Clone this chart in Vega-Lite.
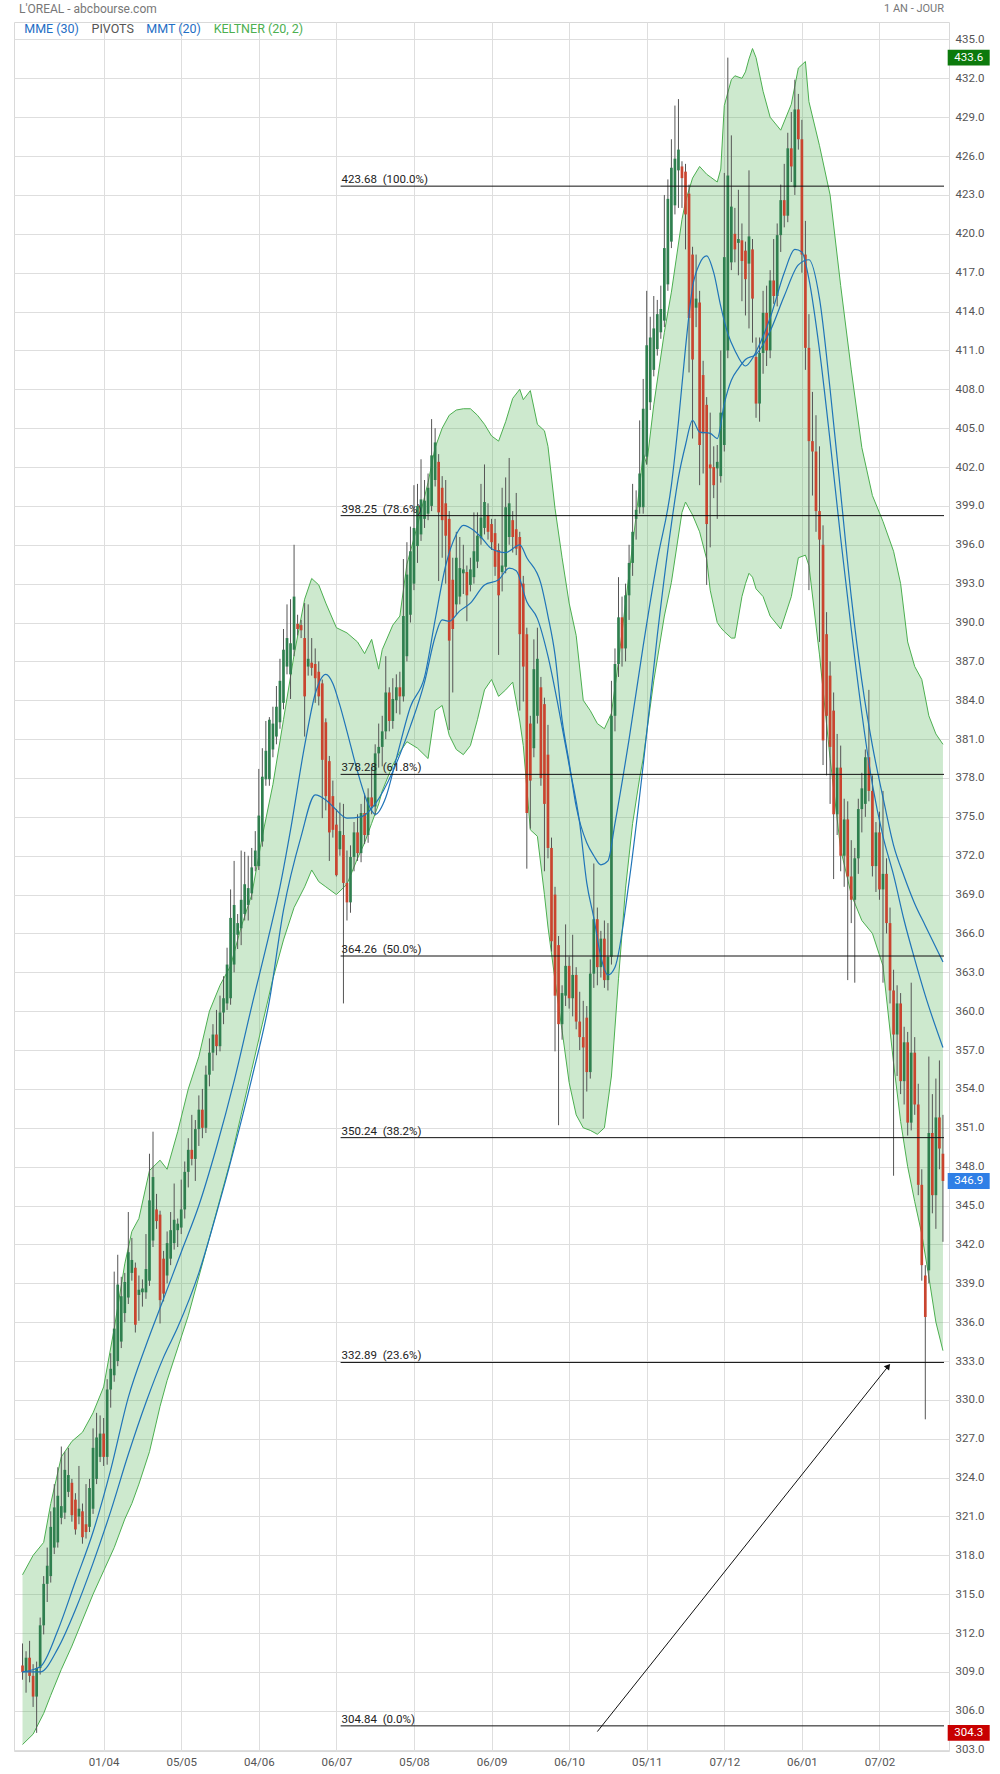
{
"$schema":"https://vega.github.io/schema/vega-lite/v6.json",
"width":935,"height":1729,
"autosize":{"type":"none"},
"padding":{"left":14,"top":22,"right":51,"bottom":23},
"background":"white",
"config":{"view":{"stroke":"#d9d9d9"},"font":"Roboto","axis":{"labelFont":"Roboto","labelColor":"#555","labelFontSize":11.5,"gridColor":"#dedede","domain":false,"ticks":false,"labelOverlap":false}},
"resolve":{"axis":{"x":"independent","y":"independent"}},
"datasets":{
"k":[
{"i":0,"o":309.5,"h":311.2,"l":308.4,"c":309.0},{"i":1,"o":309.0,"h":310.6,"l":307.4,"c":310.1},{"i":2,"o":310.1,"h":311.4,"l":308.2,"c":308.7},{"i":3,"o":308.7,"h":309.6,"l":306.3,"c":307.1},{"i":4,"o":307.1,"h":309.8,"l":304.3,"c":309.3},{"i":5,"o":309.3,"h":313.2,"l":308.8,"c":312.6},{"i":6,"o":312.6,"h":316.4,"l":311.9,"c":315.8},{"i":7,"o":315.8,"h":318.6,"l":314.4,"c":317.2},{"i":8,"o":316.4,"h":321.4,"l":315.9,"c":320.2},{"i":9,"o":318.6,"h":323.5,"l":318.1,"c":321.7},
{"i":10,"o":319.0,"h":324.8,"l":318.6,"c":322.6},{"i":11,"o":320.9,"h":326.4,"l":320.4,"c":321.8},{"i":12,"o":321.3,"h":326.0,"l":320.8,"c":324.6},{"i":13,"o":322.9,"h":326.3,"l":322.5,"c":324.2},{"i":14,"o":323.6,"h":323.9,"l":320.6,"c":321.1},{"i":15,"o":322.3,"h":322.8,"l":319.6,"c":320.0},{"i":16,"o":321.0,"h":324.9,"l":320.4,"c":321.6},{"i":17,"o":321.4,"h":322.0,"l":318.9,"c":319.4},{"i":18,"o":320.4,"h":323.5,"l":319.3,"c":319.8},{"i":19,"o":320.2,"h":323.9,"l":319.8,"c":323.2},
{"i":20,"o":321.6,"h":327.8,"l":321.2,"c":326.3},{"i":21,"o":323.9,"h":329.0,"l":323.5,"c":327.1},{"i":22,"o":325.6,"h":328.8,"l":325.2,"c":327.4},{"i":23,"o":327.4,"h":328.6,"l":324.9,"c":325.6},{"i":24,"o":325.6,"h":331.6,"l":325.0,"c":330.8},{"i":25,"o":330.8,"h":333.6,"l":329.4,"c":332.4},{"i":26,"o":331.9,"h":339.9,"l":331.4,"c":335.5},{"i":27,"o":333.0,"h":341.2,"l":332.6,"c":338.9},{"i":28,"o":334.5,"h":339.5,"l":334.0,"c":338.0},{"i":29,"o":336.7,"h":339.8,"l":336.0,"c":339.1},
{"i":30,"o":337.9,"h":344.5,"l":337.4,"c":341.4},{"i":31,"o":339.8,"h":342.5,"l":339.2,"c":340.8},{"i":32,"o":340.2,"h":340.6,"l":335.2,"c":335.8},{"i":33,"o":338.1,"h":339.6,"l":336.1,"c":338.5},{"i":34,"o":338.3,"h":339.3,"l":337.2,"c":338.6},{"i":35,"o":338.3,"h":342.8,"l":337.8,"c":340.1},{"i":36,"o":339.2,"h":349.0,"l":338.8,"c":345.4},{"i":37,"o":342.3,"h":350.7,"l":341.8,"c":347.2},{"i":38,"o":344.7,"h":345.9,"l":343.2,"c":343.8},{"i":39,"o":344.3,"h":344.6,"l":335.9,"c":337.7},
{"i":40,"o":340.9,"h":341.5,"l":337.6,"c":338.2},{"i":41,"o":339.6,"h":343.0,"l":339.0,"c":342.1},{"i":42,"o":340.9,"h":344.5,"l":340.4,"c":343.1},{"i":43,"o":342.1,"h":346.7,"l":341.6,"c":343.9},{"i":44,"o":343.1,"h":344.0,"l":341.8,"c":343.6},{"i":45,"o":343.3,"h":347.0,"l":342.8,"c":344.7},{"i":46,"o":344.7,"h":348.4,"l":344.0,"c":347.6},{"i":47,"o":347.6,"h":350.2,"l":346.4,"c":349.3},{"i":48,"o":349.3,"h":352.0,"l":348.1,"c":348.6},{"i":49,"o":348.6,"h":351.6,"l":346.9,"c":350.9},
{"i":50,"o":350.9,"h":353.5,"l":349.6,"c":352.4},{"i":51,"o":352.4,"h":354.0,"l":350.2,"c":351.0},{"i":52,"o":351.0,"h":355.8,"l":350.6,"c":355.1},{"i":53,"o":355.1,"h":357.9,"l":354.2,"c":356.8},{"i":54,"o":356.8,"h":359.0,"l":355.4,"c":358.2},{"i":55,"o":358.2,"h":360.1,"l":356.6,"c":357.3},{"i":56,"o":357.3,"h":361.2,"l":356.9,"c":359.9},{"i":57,"o":359.9,"h":362.7,"l":359.0,"c":361.0},{"i":58,"o":360.6,"h":364.9,"l":360.1,"c":363.6},{"i":59,"o":361.0,"h":369.4,"l":360.5,"c":367.2},
{"i":60,"o":363.6,"h":371.6,"l":363.0,"c":368.2},{"i":61,"o":365.9,"h":367.5,"l":364.8,"c":366.8},{"i":62,"o":366.4,"h":372.4,"l":365.1,"c":368.6},{"i":63,"o":367.5,"h":372.3,"l":367.0,"c":369.8},{"i":64,"o":368.2,"h":372.0,"l":367.0,"c":369.5},{"i":65,"o":369.1,"h":372.6,"l":368.6,"c":371.1},{"i":66,"o":371.2,"h":373.9,"l":370.8,"c":372.4},{"i":67,"o":371.2,"h":378.7,"l":370.9,"c":375.1},{"i":68,"o":373.1,"h":380.3,"l":372.7,"c":378.1},{"i":69,"o":377.9,"h":382.4,"l":377.4,"c":380.1},
{"i":70,"o":377.9,"h":382.7,"l":377.4,"c":382.5},{"i":71,"o":380.2,"h":383.5,"l":379.6,"c":382.2},{"i":72,"o":381.2,"h":385.1,"l":380.6,"c":383.5},{"i":73,"o":382.3,"h":387.2,"l":381.8,"c":385.5},{"i":74,"o":383.8,"h":389.5,"l":383.3,"c":387.9},{"i":75,"o":386.6,"h":391.4,"l":386.0,"c":388.8},{"i":76,"o":386.0,"h":391.8,"l":384.1,"c":388.4},{"i":77,"o":387.9,"h":396.0,"l":387.4,"c":392.0},{"i":78,"o":389.9,"h":390.6,"l":389.0,"c":389.5},{"i":79,"o":389.8,"h":390.2,"l":388.8,"c":389.4},
{"i":80,"o":388.8,"h":391.5,"l":381.2,"c":384.3},{"i":81,"o":386.6,"h":391.4,"l":385.9,"c":387.2},{"i":82,"o":386.9,"h":388.8,"l":385.9,"c":386.5},{"i":83,"o":386.8,"h":388.0,"l":383.8,"c":385.7},{"i":84,"o":386.2,"h":387.0,"l":383.6,"c":384.3},{"i":85,"o":385.3,"h":385.6,"l":374.9,"c":379.4},{"i":86,"o":382.3,"h":382.6,"l":375.5,"c":376.6},{"i":87,"o":379.3,"h":379.7,"l":371.6,"c":373.8},{"i":88,"o":376.6,"h":377.8,"l":373.4,"c":374.0},{"i":89,"o":374.4,"h":375.6,"l":370.4,"c":370.5},
{"i":90,"o":372.5,"h":376.1,"l":372.0,"c":373.9},{"i":91,"o":373.6,"h":376.0,"l":360.6,"c":369.9},{"i":92,"o":369.9,"h":372.4,"l":367.0,"c":368.4},{"i":93,"o":368.4,"h":372.8,"l":367.6,"c":371.9},{"i":94,"o":371.9,"h":374.6,"l":370.8,"c":373.8},{"i":95,"o":373.8,"h":375.2,"l":371.6,"c":372.2},{"i":96,"o":372.2,"h":376.0,"l":371.5,"c":375.3},{"i":97,"o":375.3,"h":376.8,"l":372.9,"c":373.6},{"i":98,"o":373.6,"h":377.2,"l":373.0,"c":376.5},{"i":99,"o":376.5,"h":378.9,"l":375.2,"c":375.8},
{"i":100,"o":375.8,"h":380.6,"l":375.1,"c":379.9},{"i":101,"o":379.9,"h":382.2,"l":378.8,"c":380.4},{"i":102,"o":380.4,"h":382.8,"l":378.9,"c":381.6},{"i":103,"o":381.6,"h":387.4,"l":381.0,"c":384.6},{"i":104,"o":384.6,"h":385.0,"l":381.6,"c":382.4},{"i":105,"o":382.4,"h":385.7,"l":381.8,"c":384.1},{"i":106,"o":384.0,"h":386.0,"l":383.0,"c":385.0},{"i":107,"o":385.0,"h":386.2,"l":382.9,"c":384.3},{"i":108,"o":384.3,"h":394.9,"l":383.9,"c":390.5},{"i":109,"o":387.4,"h":396.2,"l":387.0,"c":393.7},
{"i":110,"o":390.6,"h":397.4,"l":390.0,"c":395.5},{"i":111,"o":393.0,"h":400.6,"l":392.5,"c":397.3},{"i":112,"o":395.9,"h":400.7,"l":394.6,"c":399.0},{"i":113,"o":396.8,"h":402.6,"l":396.3,"c":399.5},{"i":114,"o":398.0,"h":401.0,"l":397.3,"c":399.4},{"i":115,"o":398.4,"h":401.5,"l":397.9,"c":400.4},{"i":116,"o":399.0,"h":405.7,"l":398.6,"c":402.9},{"i":117,"o":401.0,"h":405.0,"l":400.5,"c":403.9},{"i":118,"o":402.4,"h":403.0,"l":393.2,"c":398.5},{"i":119,"o":400.4,"h":401.3,"l":395.0,"c":397.9},
{"i":120,"o":399.2,"h":401.0,"l":393.0,"c":396.7},{"i":121,"o":398.0,"h":398.6,"l":381.7,"c":388.6},{"i":122,"o":393.3,"h":395.0,"l":384.6,"c":389.5},{"i":123,"o":391.4,"h":397.0,"l":390.6,"c":395.0},{"i":124,"o":392.0,"h":396.6,"l":391.4,"c":394.2},{"i":125,"o":393.8,"h":396.0,"l":392.2,"c":394.1},{"i":126,"o":393.9,"h":394.4,"l":390.1,"c":392.1},{"i":127,"o":392.9,"h":395.0,"l":392.4,"c":394.1},{"i":128,"o":393.5,"h":398.5,"l":393.0,"c":395.5},{"i":129,"o":394.7,"h":398.5,"l":394.2,"c":396.7},
{"i":130,"o":396.5,"h":400.7,"l":396.0,"c":398.1},{"i":131,"o":397.3,"h":402.2,"l":396.8,"c":399.3},{"i":132,"o":398.3,"h":399.2,"l":396.4,"c":397.0},{"i":133,"o":397.6,"h":398.0,"l":395.6,"c":396.2},{"i":134,"o":396.9,"h":398.0,"l":393.6,"c":394.3},{"i":135,"o":395.6,"h":396.1,"l":387.5,"c":392.1},{"i":136,"o":393.9,"h":400.4,"l":392.4,"c":394.4},{"i":137,"o":394.3,"h":401.2,"l":393.8,"c":398.9},{"i":138,"o":396.6,"h":402.7,"l":396.0,"c":399.2},{"i":139,"o":397.9,"h":398.6,"l":395.4,"c":396.6},
{"i":140,"o":397.2,"h":400.0,"l":395.2,"c":395.7},{"i":141,"o":396.6,"h":397.0,"l":383.2,"c":389.1},{"i":142,"o":393.0,"h":393.6,"l":383.9,"c":386.6},{"i":143,"o":389.1,"h":389.6,"l":371.0,"c":375.3},{"i":144,"o":382.2,"h":382.8,"l":374.1,"c":377.8},{"i":145,"o":380.3,"h":388.7,"l":379.6,"c":386.4},{"i":146,"o":382.8,"h":389.6,"l":382.2,"c":387.2},{"i":147,"o":385.0,"h":385.8,"l":377.4,"c":378.0},{"i":148,"o":383.7,"h":384.2,"l":370.8,"c":376.0},{"i":149,"o":379.8,"h":382.1,"l":371.8,"c":372.6},
{"i":150,"o":372.6,"h":373.4,"l":364.6,"c":365.4},{"i":151,"o":369.0,"h":369.6,"l":356.9,"c":361.2},{"i":152,"o":365.1,"h":365.8,"l":351.2,"c":359.0},{"i":153,"o":359.0,"h":362.0,"l":357.8,"c":361.4},{"i":154,"o":361.2,"h":366.7,"l":360.4,"c":363.5},{"i":155,"o":363.5,"h":364.2,"l":360.2,"c":361.0},{"i":156,"o":361.0,"h":365.9,"l":359.6,"c":362.8},{"i":157,"o":362.8,"h":363.4,"l":358.6,"c":359.2},{"i":158,"o":359.2,"h":361.5,"l":357.0,"c":358.0},{"i":159,"o":358.0,"h":360.8,"l":351.7,"c":357.2},
{"i":160,"o":359.5,"h":360.4,"l":353.8,"c":355.3},{"i":161,"o":355.3,"h":364.0,"l":354.8,"c":362.9},{"i":162,"o":362.9,"h":371.4,"l":361.8,"c":367.1},{"i":163,"o":367.1,"h":368.0,"l":362.0,"c":363.4},{"i":164,"o":363.4,"h":366.2,"l":362.6,"c":365.6},{"i":165,"o":365.6,"h":367.0,"l":361.8,"c":362.4},{"i":166,"o":362.4,"h":366.8,"l":361.6,"c":364.2},{"i":167,"o":364.2,"h":385.5,"l":363.6,"c":382.8},{"i":168,"o":382.8,"h":388.0,"l":381.6,"c":386.8},{"i":169,"o":386.8,"h":393.5,"l":385.8,"c":390.4},
{"i":170,"o":390.4,"h":392.0,"l":386.6,"c":388.0},{"i":171,"o":388.0,"h":393.0,"l":387.0,"c":392.1},{"i":172,"o":392.1,"h":396.0,"l":390.2,"c":394.6},{"i":173,"o":394.6,"h":400.7,"l":393.6,"c":397.0},{"i":174,"o":398.0,"h":400.2,"l":396.4,"c":398.7},{"i":175,"o":398.9,"h":405.6,"l":398.4,"c":401.5},{"i":176,"o":398.9,"h":408.8,"l":398.4,"c":406.5},{"i":177,"o":402.8,"h":415.6,"l":402.2,"c":411.4},{"i":178,"o":407.0,"h":413.6,"l":406.4,"c":412.0},{"i":179,"o":409.5,"h":415.2,"l":409.0,"c":412.7},
{"i":180,"o":411.1,"h":414.9,"l":410.6,"c":413.8},{"i":181,"o":412.4,"h":416.0,"l":411.9,"c":414.2},{"i":182,"o":413.3,"h":423.0,"l":412.8,"c":418.9},{"i":183,"o":416.1,"h":424.2,"l":415.6,"c":422.7},{"i":184,"o":419.4,"h":427.3,"l":418.9,"c":425.1},{"i":185,"o":422.2,"h":429.9,"l":421.5,"c":425.8},{"i":186,"o":424.9,"h":430.4,"l":422.0,"c":426.5},{"i":187,"o":425.2,"h":425.6,"l":422.0,"c":424.3},{"i":188,"o":424.8,"h":425.4,"l":418.8,"c":421.5},{"i":189,"o":423.1,"h":423.8,"l":409.3,"c":413.5},
{"i":190,"o":418.4,"h":419.0,"l":404.2,"c":410.3},{"i":191,"o":414.3,"h":418.4,"l":412.8,"c":415.0},{"i":192,"o":414.7,"h":415.6,"l":400.6,"c":403.7},{"i":193,"o":409.1,"h":410.2,"l":401.5,"c":404.6},{"i":194,"o":406.8,"h":407.4,"l":392.9,"c":397.6},{"i":195,"o":402.2,"h":406.2,"l":395.8,"c":401.9},{"i":196,"o":402.0,"h":403.6,"l":399.6,"c":400.6},{"i":197,"o":401.9,"h":403.7,"l":398.0,"c":402.4},{"i":198,"o":401.3,"h":411.0,"l":400.8,"c":406.2},{"i":199,"o":403.7,"h":424.7,"l":403.2,"c":418.2},
{"i":200,"o":411.0,"h":433.6,"l":410.4,"c":424.5},{"i":201,"o":417.8,"h":427.6,"l":417.2,"c":422.1},{"i":202,"o":420.0,"h":422.0,"l":417.8,"c":418.8},{"i":203,"o":419.3,"h":423.4,"l":416.8,"c":419.6},{"i":204,"o":419.5,"h":420.8,"l":414.8,"c":417.9},{"i":205,"o":418.7,"h":419.4,"l":413.7,"c":416.5},{"i":206,"o":417.7,"h":424.9,"l":412.7,"c":419.8},{"i":207,"o":418.8,"h":419.6,"l":411.6,"c":415.0},{"i":208,"o":410.5,"h":412.0,"l":405.8,"c":406.9},{"i":209,"o":406.9,"h":412.0,"l":405.5,"c":410.8},
{"i":210,"o":410.8,"h":415.6,"l":409.2,"c":413.9},{"i":211,"o":413.9,"h":416.0,"l":409.8,"c":411.0},{"i":212,"o":411.0,"h":417.2,"l":410.4,"c":416.4},{"i":213,"o":416.4,"h":419.6,"l":414.6,"c":415.2},{"i":214,"o":415.2,"h":420.8,"l":414.4,"c":419.9},{"i":215,"o":419.9,"h":423.8,"l":418.6,"c":422.6},{"i":216,"o":422.6,"h":425.4,"l":420.5,"c":421.4},{"i":217,"o":421.4,"h":427.8,"l":420.9,"c":426.6},{"i":218,"o":426.6,"h":429.4,"l":424.0,"c":425.2},{"i":219,"o":423.6,"h":431.9,"l":423.0,"c":429.6},
{"i":220,"o":429.6,"h":430.8,"l":426.5,"c":427.3},{"i":221,"o":427.3,"h":428.8,"l":417.0,"c":418.4},{"i":222,"o":418.4,"h":421.0,"l":409.5,"c":411.2},{"i":223,"o":411.2,"h":413.8,"l":392.5,"c":404.0},{"i":224,"o":404.0,"h":407.8,"l":399.8,"c":403.2},{"i":225,"o":403.2,"h":406.0,"l":397.0,"c":398.6},{"i":226,"o":398.6,"h":403.6,"l":388.5,"c":396.4},{"i":227,"o":396.0,"h":397.5,"l":379.0,"c":380.9},{"i":228,"o":389.1,"h":390.8,"l":378.2,"c":382.8},{"i":229,"o":385.9,"h":387.0,"l":376.0,"c":380.4},
{"i":230,"o":383.2,"h":384.6,"l":370.2,"c":375.2},{"i":231,"o":375.2,"h":381.4,"l":373.6,"c":378.8},{"i":232,"o":378.8,"h":380.5,"l":370.8,"c":372.0},{"i":233,"o":372.0,"h":376.4,"l":369.6,"c":374.8},{"i":234,"o":374.8,"h":376.2,"l":362.4,"c":370.4},{"i":235,"o":370.4,"h":373.2,"l":366.8,"c":368.6},{"i":236,"o":368.6,"h":372.6,"l":362.2,"c":371.8},{"i":237,"o":371.8,"h":376.4,"l":370.6,"c":375.6},{"i":238,"o":375.6,"h":378.4,"l":373.8,"c":377.2},{"i":239,"o":376.0,"h":380.2,"l":375.0,"c":379.6},
{"i":240,"o":379.6,"h":384.8,"l":376.2,"c":377.0},{"i":241,"o":377.0,"h":378.2,"l":370.4,"c":371.2},{"i":242,"o":371.2,"h":374.6,"l":369.2,"c":373.8},{"i":243,"o":373.8,"h":375.4,"l":368.6,"c":369.4},{"i":244,"o":369.4,"h":377.0,"l":362.2,"c":370.6},{"i":245,"o":370.6,"h":371.8,"l":366.0,"c":366.8},{"i":246,"o":366.8,"h":368.0,"l":360.6,"c":361.6},{"i":247,"o":361.6,"h":363.2,"l":347.3,"c":358.2},{"i":248,"o":358.2,"h":362.0,"l":355.0,"c":360.6},{"i":249,"o":360.6,"h":361.4,"l":353.6,"c":354.6},
{"i":250,"o":354.6,"h":358.8,"l":352.8,"c":357.6},{"i":251,"o":357.6,"h":358.4,"l":350.4,"c":351.4},{"i":252,"o":351.4,"h":362.2,"l":350.8,"c":356.8},{"i":253,"o":356.8,"h":358.0,"l":352.0,"c":352.8},{"i":254,"o":352.8,"h":354.4,"l":345.8,"c":346.6},{"i":255,"o":346.6,"h":347.8,"l":339.2,"c":340.4},{"i":256,"o":339.6,"h":340.4,"l":328.5,"c":336.4},{"i":257,"o":340.0,"h":356.5,"l":339.0,"c":350.6},{"i":258,"o":350.6,"h":353.6,"l":344.4,"c":345.8},{"i":259,"o":345.8,"h":354.8,"l":343.2,"c":351.8},
{"i":260,"o":351.8,"h":356.2,"l":347.8,"c":349.4},{"i":261,"o":349.0,"h":352.0,"l":342.2,"c":346.9}
],
"bd":[
{"i":0,"u":316.5,"w":303.4},{"i":3,"u":318.0,"w":304.2},{"i":6,"u":319.0,"w":305.8},{"i":8,"u":322.0,"w":307.2},{"i":11,"u":325.6,"w":309.2},{"i":14,"u":326.8,"w":311.0},{"i":17,"u":327.5,"w":313.0},{"i":20,"u":329.0,"w":315.0},{"i":23,"u":331.0,"w":316.8},{"i":26,"u":335.5,"w":318.6},{"i":29,"u":340.5,"w":320.8},{"i":31,"u":343.0,"w":322.0},{"i":33,"u":344.0,"w":323.5},{"i":36,"u":347.7,"w":326.0},{"i":39,"u":348.5,"w":329.5},{"i":41,"u":347.8,"w":331.5},{"i":44,"u":350.7,"w":334.0},{"i":47,"u":354.0,"w":336.5},{"i":50,"u":356.5,"w":339.5},{"i":53,"u":360.0,"w":342.5},{"i":56,"u":362.0,"w":345.5},{"i":59,"u":363.5,"w":348.5},{"i":62,"u":366.5,"w":352.0},{"i":65,"u":369.0,"w":355.5},{"i":68,"u":373.5,"w":359.0},{"i":71,"u":377.5,"w":362.5},{"i":74,"u":382.5,"w":365.5},{"i":77,"u":387.5,"w":368.0},{"i":80,"u":391.8,"w":369.6},{"i":82,"u":393.4,"w":370.9},{"i":84,"u":392.9,"w":370.0},{"i":86,"u":391.5,"w":369.6},{"i":89,"u":389.6,"w":369.0},{"i":92,"u":389.2,"w":369.8},{"i":95,"u":388.5,"w":371.8},{"i":97,"u":387.6,"w":373.0},{"i":99,"u":388.7,"w":374.5},{"i":101,"u":386.4,"w":376.0},{"i":102,"u":387.9,"w":377.0},{"i":105,"u":389.8,"w":379.0},{"i":107,"u":390.5,"w":380.0},{"i":109,"u":394.5,"w":380.8},{"i":112,"u":397.5,"w":380.3},{"i":115,"u":400.8,"w":379.5},{"i":117,"u":403.5,"w":383.2},{"i":119,"u":405.0,"w":383.6},{"i":121,"u":406.0,"w":381.3},{"i":123,"u":406.4,"w":380.2},{"i":125,"u":406.5,"w":379.8},{"i":127,"u":406.5,"w":380.5},{"i":129,"u":406.0,"w":382.5},{"i":131,"u":405.3,"w":384.8},{"i":133,"u":404.4,"w":385.6},{"i":135,"u":404.0,"w":384.3},{"i":137,"u":405.5,"w":384.8},{"i":139,"u":407.3,"w":385.4},{"i":141,"u":408.0,"w":382.4},{"i":142,"u":407.2,"w":380.5},{"i":144,"u":407.9,"w":374.0},{"i":146,"u":405.3,"w":373.5},{"i":148,"u":404.8,"w":369.0},{"i":149,"u":403.6,"w":366.5},{"i":151,"u":398.8,"w":362.4},{"i":153,"u":395.0,"w":358.5},{"i":155,"u":391.5,"w":354.5},{"i":157,"u":389.0,"w":352.0},{"i":159,"u":384.0,"w":351.0},{"i":161,"u":383.2,"w":350.8},{"i":163,"u":382.2,"w":350.5},{"i":165,"u":381.8,"w":351.0},{"i":167,"u":383.0,"w":355.0},{"i":169,"u":387.0,"w":362.5},{"i":171,"u":391.5,"w":369.5},{"i":173,"u":396.0,"w":374.5},{"i":175,"u":400.5,"w":378.0},{"i":176,"u":403.1,"w":379.5},{"i":177,"u":402.2,"w":381.5},{"i":179,"u":406.8,"w":385.5},{"i":182,"u":412.4,"w":390.5},{"i":184,"u":415.5,"w":393.1},{"i":187,"u":421.1,"w":398.5},{"i":188,"u":422.5,"w":399.3},{"i":190,"u":424.3,"w":398.3},{"i":192,"u":425.2,"w":397.0},{"i":194,"u":424.6,"w":394.9},{"i":195,"u":424.4,"w":392.5},{"i":197,"u":424.0,"w":390.0},{"i":198,"u":425.0,"w":389.6},{"i":199,"u":429.9,"w":389.3},{"i":201,"u":431.9,"w":388.8},{"i":202,"u":432.2,"w":388.8},{"i":204,"u":432.0,"w":392.0},{"i":205,"u":432.5,"w":393.0},{"i":206,"u":433.5,"w":393.8},{"i":207,"u":434.3,"w":393.5},{"i":208,"u":433.6,"w":392.6},{"i":210,"u":431.0,"w":392.0},{"i":212,"u":429.0,"w":390.5},{"i":215,"u":428.0,"w":389.5},{"i":218,"u":430.0,"w":392.0},{"i":220,"u":432.8,"w":395.0},{"i":222,"u":433.3,"w":395.2},{"i":223,"u":430.2,"w":394.4},{"i":226,"u":426.8,"w":387.5},{"i":229,"u":423.0,"w":379.5},{"i":232,"u":416.0,"w":372.5},{"i":235,"u":409.5,"w":369.0},{"i":238,"u":403.5,"w":367.0},{"i":241,"u":399.8,"w":366.0},{"i":244,"u":397.8,"w":363.5},{"i":247,"u":395.5,"w":356.0},{"i":249,"u":393.0,"w":351.5},{"i":251,"u":388.5,"w":348.0},{"i":253,"u":386.6,"w":345.3},{"i":255,"u":385.6,"w":342.8},{"i":257,"u":382.8,"w":339.5},{"i":259,"u":381.4,"w":336.0},{"i":261,"u":380.6,"w":333.8}
],
"ln":[
{"s":"a","i":0,"v":309.0},{"s":"a","i":5,"v":309.4},{"s":"a","i":10,"v":312.2},{"s":"a","i":15,"v":316.0},{"s":"a","i":20,"v":319.8},{"s":"a","i":25,"v":324.6},{"s":"a","i":30,"v":330.2},{"s":"a","i":35,"v":334.2},{"s":"a","i":40,"v":337.8},{"s":"a","i":45,"v":341.4},{"s":"a","i":50,"v":345.0},{"s":"a","i":55,"v":349.5},{"s":"a","i":60,"v":354.6},{"s":"a","i":65,"v":360.4},{"s":"a","i":70,"v":366.0},{"s":"a","i":73,"v":369.6},{"s":"a","i":76,"v":374.0},{"s":"a","i":80,"v":380.5},{"s":"a","i":83,"v":384.5},{"s":"a","i":86,"v":386.0},{"s":"a","i":88,"v":385.3},{"s":"a","i":90,"v":383.6},{"s":"a","i":92,"v":381.6},{"s":"a","i":95,"v":378.5},{"s":"a","i":98,"v":376.0},{"s":"a","i":100,"v":375.2},{"s":"a","i":103,"v":376.5},{"s":"a","i":106,"v":379.5},{"s":"a","i":110,"v":383.5},{"s":"a","i":114,"v":385.8},{"s":"a","i":117,"v":390.2},{"s":"a","i":120,"v":394.4},{"s":"a","i":123,"v":396.8},{"s":"a","i":125,"v":397.5},{"s":"a","i":128,"v":397.1},{"s":"a","i":130,"v":396.6},{"s":"a","i":133,"v":395.7},{"s":"a","i":137,"v":395.4},{"s":"a","i":141,"v":396.0},{"s":"a","i":143,"v":395.0},{"s":"a","i":147,"v":393.0},{"s":"a","i":149,"v":390.5},{"s":"a","i":151,"v":387.5},{"s":"a","i":153,"v":382.5},{"s":"a","i":155,"v":379.2},{"s":"a","i":157,"v":375.8},{"s":"a","i":160,"v":373.0},{"s":"a","i":162,"v":372.0},{"s":"a","i":164,"v":371.3},{"s":"a","i":166,"v":371.6},{"s":"a","i":168,"v":374.5},{"s":"a","i":172,"v":381.0},{"s":"a","i":176,"v":388.2},{"s":"a","i":180,"v":394.8},{"s":"a","i":184,"v":400.6},{"s":"a","i":186,"v":405.5},{"s":"a","i":188,"v":411.2},{"s":"a","i":190,"v":415.9},{"s":"a","i":192,"v":417.7},{"s":"a","i":194,"v":418.3},{"s":"a","i":196,"v":417.0},{"s":"a","i":198,"v":414.4},{"s":"a","i":200,"v":412.3},{"s":"a","i":202,"v":411.0},{"s":"a","i":205,"v":409.8},{"s":"a","i":207,"v":410.4},{"s":"a","i":208,"v":410.9},{"s":"a","i":212,"v":413.5},{"s":"a","i":216,"v":417.0},{"s":"a","i":219,"v":418.8},{"s":"a","i":221,"v":418.6},{"s":"a","i":223,"v":416.5},{"s":"a","i":226,"v":411.0},{"s":"a","i":229,"v":404.0},{"s":"a","i":232,"v":396.5},{"s":"a","i":235,"v":389.5},{"s":"a","i":238,"v":383.0},{"s":"a","i":241,"v":377.5},{"s":"a","i":244,"v":373.5},{"s":"a","i":247,"v":370.5},{"s":"a","i":250,"v":367.0},{"s":"a","i":253,"v":364.0},{"s":"a","i":256,"v":361.2},{"s":"a","i":261,"v":357.2},
{"s":"b","i":0,"v":309.0},{"s":"b","i":5,"v":309.0},{"s":"b","i":10,"v":310.8},{"s":"b","i":15,"v":313.8},{"s":"b","i":20,"v":317.4},{"s":"b","i":25,"v":321.4},{"s":"b","i":30,"v":325.8},{"s":"b","i":35,"v":329.8},{"s":"b","i":40,"v":333.3},{"s":"b","i":44,"v":335.6},{"s":"b","i":50,"v":339.8},{"s":"b","i":55,"v":344.4},{"s":"b","i":60,"v":349.4},{"s":"b","i":65,"v":354.8},{"s":"b","i":70,"v":360.8},{"s":"b","i":74,"v":367.8},{"s":"b","i":79,"v":373.5},{"s":"b","i":83,"v":376.7},{"s":"b","i":86,"v":376.3},{"s":"b","i":88,"v":375.8},{"s":"b","i":92,"v":374.9},{"s":"b","i":96,"v":375.0},{"s":"b","i":100,"v":376.0},{"s":"b","i":105,"v":378.5},{"s":"b","i":110,"v":382.0},{"s":"b","i":114,"v":385.4},{"s":"b","i":117,"v":388.9},{"s":"b","i":119,"v":390.2},{"s":"b","i":121,"v":390.1},{"s":"b","i":124,"v":390.9},{"s":"b","i":127,"v":391.5},{"s":"b","i":131,"v":392.9},{"s":"b","i":135,"v":393.3},{"s":"b","i":138,"v":394.2},{"s":"b","i":140,"v":394.0},{"s":"b","i":143,"v":391.6},{"s":"b","i":146,"v":390.3},{"s":"b","i":149,"v":387.4},{"s":"b","i":152,"v":383.4},{"s":"b","i":155,"v":379.0},{"s":"b","i":158,"v":374.5},{"s":"b","i":160,"v":369.9},{"s":"b","i":162,"v":367.2},{"s":"b","i":164,"v":364.2},{"s":"b","i":166,"v":362.8},{"s":"b","i":168,"v":363.4},{"s":"b","i":172,"v":370.0},{"s":"b","i":176,"v":379.0},{"s":"b","i":180,"v":389.0},{"s":"b","i":184,"v":397.6},{"s":"b","i":186,"v":401.2},{"s":"b","i":188,"v":403.7},{"s":"b","i":190,"v":405.6},{"s":"b","i":192,"v":404.7},{"s":"b","i":195,"v":404.6},{"s":"b","i":197,"v":404.2},{"s":"b","i":199,"v":406.9},{"s":"b","i":201,"v":408.7},{"s":"b","i":203,"v":409.6},{"s":"b","i":205,"v":410.3},{"s":"b","i":208,"v":410.7},{"s":"b","i":212,"v":412.5},{"s":"b","i":216,"v":415.2},{"s":"b","i":220,"v":417.6},{"s":"b","i":223,"v":418.0},{"s":"b","i":226,"v":415.0},{"s":"b","i":229,"v":408.0},{"s":"b","i":232,"v":400.0},{"s":"b","i":235,"v":392.0},{"s":"b","i":238,"v":385.5},{"s":"b","i":241,"v":380.5},{"s":"b","i":244,"v":376.5},{"s":"b","i":247,"v":372.8},{"s":"b","i":250,"v":370.4},{"s":"b","i":253,"v":368.3},{"s":"b","i":256,"v":366.6},{"s":"b","i":261,"v":363.8}
],
"fib":[
{"v":423.68,"t":"423.68\u00a0 (100.0%)"},{"v":398.25,"t":"398.25\u00a0 (78.6%)"},{"v":378.28,"t":"378.28\u00a0 (61.8%)"},{"v":364.26,"t":"364.26\u00a0 (50.0%)"},{"v":350.24,"t":"350.24\u00a0 (38.2%)"},{"v":332.89,"t":"332.89\u00a0 (23.6%)"},{"v":304.84,"t":"304.84\u00a0 (0.0%)"}
],
"arr":[{"x0":163,"y0":304.4,"x1":245.5,"y1":332.6}],
"tags":[{"k":"max","v":433.6,"t":"433.6"},{"k":"last","v":346.9,"t":"346.9"},{"k":"min","v":304.3,"t":"304.3"}]
},
"layer":[
{"data":{"name":"bd"},"mark":{"type":"area","color":"#4caf50","opacity":0.28},
 "encoding":{
  "x":{"field":"i","type":"quantitative","title":null,"scale":{"domain":[-1,261.3],"nice":false,"zero":false},
       "axis":{"values":[23,45,67,89,111,133,155,177,199,221,243],"labelExpr":"['01/04','05/05','04/06','06/07','05/08','06/09','06/10','05/11','07/12','06/01','07/02'][indexof([23,45,67,89,111,133,155,177,199,221,243],datum.value)]","labelPadding":5,"grid":true,"labelOverlap":false}},
  "y":{"field":"u","type":"quantitative","title":null,"scale":{"domain":[302.9,436.35],"nice":false,"zero":false},
       "axis":{"orient":"right","values":[303,306,309,312,315,318,321,324,327,330,333,336,339,342,345,348,351,354,357,360,363,366,369,372,375,378,381,384,387,390,393,396,399,402,405,408,411,414,417,420,423,426,429,432,435],"format":".1f","labelPadding":6,"grid":true,"labelOverlap":false,"labelBound":false}},
  "y2":{"field":"w"}}},
{"data":{"name":"bd"},"mark":{"type":"line","color":"#4caf50","strokeWidth":1},"encoding":{"x":{"field":"i","type":"quantitative","axis":null},"y":{"field":"u","type":"quantitative","axis":null}}},
{"data":{"name":"bd"},"mark":{"type":"line","color":"#4caf50","strokeWidth":1},"encoding":{"x":{"field":"i","type":"quantitative","axis":null},"y":{"field":"w","type":"quantitative","axis":null}}},
{"data":{"name":"k"},"mark":{"type":"rule","color":"#555555","strokeWidth":1},"encoding":{"x":{"field":"i","type":"quantitative","axis":null},"y":{"field":"l","type":"quantitative","axis":null},"y2":{"field":"h"}}},
{"data":{"name":"k"},"mark":{"type":"bar","width":2.7},"encoding":{"x":{"field":"i","type":"quantitative","axis":null},"y":{"field":"o","type":"quantitative","axis":null},"y2":{"field":"c"},
  "color":{"condition":{"test":"datum.c >= datum.o","value":"#2f7f4f"},"value":"#c9442f"}}},
{"data":{"name":"ln"},"mark":{"type":"line","color":"#1f74b8","strokeWidth":1.2,"interpolate":"monotone"},"encoding":{"x":{"field":"i","type":"quantitative","axis":null},"y":{"field":"v","type":"quantitative","axis":null},"detail":{"field":"s"}}},
{"data":{"name":"fib"},"mark":{"type":"rule","color":"#111111","strokeWidth":1},"encoding":{"x":{"datum":90.2,"type":"quantitative","axis":null},"x2":{"datum":261.3},"y":{"field":"v","type":"quantitative","axis":null}}},
{"data":{"name":"fib"},"mark":{"type":"text","align":"left","baseline":"bottom","dx":1,"dy":-1,"fontSize":11.5,"color":"#222222"},"encoding":{"x":{"datum":90.2,"type":"quantitative","axis":null},"y":{"field":"v","type":"quantitative","axis":null},"text":{"field":"t"}}},
{"data":{"name":"arr"},"mark":{"type":"rule","color":"#111111","strokeWidth":1},"encoding":{"x":{"field":"x0","type":"quantitative","axis":null},"y":{"field":"y0","type":"quantitative","axis":null},"x2":{"field":"x1"},"y2":{"field":"y1"}}},
{"data":{"name":"arr"},"mark":{"type":"point","shape":"triangle-up","angle":38.7,"filled":true,"size":45,"color":"#111111","opacity":1},"encoding":{"x":{"field":"x1","type":"quantitative","axis":null},"y":{"field":"y1","type":"quantitative","axis":null}}},
{"data":{"name":"tags"},"mark":{"type":"point","shape":"M-1,-0.38H1V0.38H-1Z","size":1764,"filled":true,"opacity":1,"clip":false},"encoding":{"x":{"datum":268.3,"type":"quantitative","axis":null},"y":{"field":"v","type":"quantitative","axis":null},
  "color":{"field":"k","type":"nominal","scale":{"domain":["max","last","min"],"range":["#0c7a0c","#2f7fe6","#c80000"]},"legend":null}}},
{"data":{"name":"tags"},"mark":{"type":"text","color":"white","fontSize":11.5,"align":"center","baseline":"middle","clip":false},"encoding":{"x":{"datum":268.3,"type":"quantitative","axis":null},"y":{"field":"v","type":"quantitative","axis":null},"text":{"field":"t"}}},
{"data":{"values":[{"t":"L'OREAL - abcbourse.com"}]},"mark":{"type":"text","align":"left","baseline":"middle","fontSize":12,"color":"#777777","clip":false},"encoding":{"x":{"datum":-1,"type":"quantitative","axis":null},"y":{"datum":437.39,"type":"quantitative","axis":null},"text":{"field":"t"}}},
{"data":{"values":[{"t":"1 AN - JOUR"}]},"mark":{"type":"text","align":"right","baseline":"middle","fontSize":11,"color":"#777777","clip":false},"encoding":{"x":{"datum":261.3,"type":"quantitative","axis":null},"y":{"datum":437.39,"type":"quantitative","axis":null},"text":{"field":"t"}}},
{"data":{"values":[{"t":"MME (30)"}]},"mark":{"type":"text","align":"left","baseline":"middle","fontSize":12.5,"color":"#1f6fc5"},"encoding":{"x":{"datum":0.49,"type":"quantitative","axis":null},"y":{"datum":435.81,"type":"quantitative","axis":null},"text":{"field":"t"}}},
{"data":{"values":[{"t":"PIVOTS"}]},"mark":{"type":"text","align":"left","baseline":"middle","fontSize":12.5,"color":"#555555"},"encoding":{"x":{"datum":19.56,"type":"quantitative","axis":null},"y":{"datum":435.81,"type":"quantitative","axis":null},"text":{"field":"t"}}},
{"data":{"values":[{"t":"MMT (20)"}]},"mark":{"type":"text","align":"left","baseline":"middle","fontSize":12.5,"color":"#1f6fc5"},"encoding":{"x":{"datum":35.1,"type":"quantitative","axis":null},"y":{"datum":435.81,"type":"quantitative","axis":null},"text":{"field":"t"}}},
{"data":{"values":[{"t":"KELTNER (20, 2)"}]},"mark":{"type":"text","align":"left","baseline":"middle","fontSize":12.5,"color":"#4caf50"},"encoding":{"x":{"datum":54.2,"type":"quantitative","axis":null},"y":{"datum":435.81,"type":"quantitative","axis":null},"text":{"field":"t"}}}
]
}
